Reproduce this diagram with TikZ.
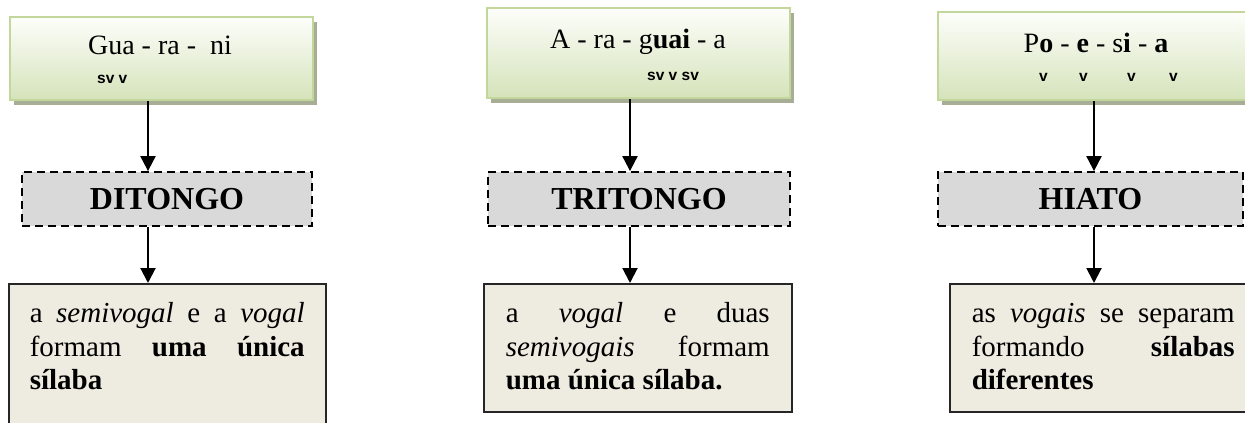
\documentclass[tikz,border=0pt]{standalone}
\usepackage{fontspec}
\setmainfont{Liberation Serif}
\newfontfamily\labelfont{Liberation Sans}
\usetikzlibrary{positioning,arrows.meta,shadows}
\definecolor{wordtop}{RGB}{253,254,251}
\definecolor{wordbottom}{RGB}{213,227,186}
\definecolor{wordline}{RGB}{195,214,155}
\definecolor{wordshadow}{RGB}{168,173,150}
\definecolor{typefill}{RGB}{217,217,217}
\definecolor{notefill}{RGB}{238,236,225}
\tikzset{
  wordbox/.style={draw=wordline,line width=2pt,top color=wordtop,bottom color=wordbottom,
    drop shadow={shadow xshift=4pt,shadow yshift=-5pt,fill=wordshadow,opacity=1}},
  word/.style={anchor=base,inner sep=0pt,font=\fontsize{28}{32}\selectfont},
  vowels/.style={anchor=base west,inner sep=0pt,font=\labelfont\bfseries\fontsize{15.5}{18}\selectfont},
  typebox/.style={draw,dash pattern=on 8pt off 5pt,line width=1.8pt,fill=typefill,
    minimum height=54pt,font=\fontsize{32}{36}\selectfont\bfseries},
  notebox/.style={draw=black!85,line width=1.5pt,fill=notefill,anchor=north west,align=justify,
    inner xsep=22pt,inner ysep=19pt,text height=20pt,text depth=70pt,
    font=\fontsize{29}{33.3}\selectfont,
    execute at begin node={\tolerance=10000\relax\hyphenpenalty=10000\relax}},
  arr/.style={line width=2pt,-{Triangle[length=15pt,width=15pt]}}
}
\begin{document}
\begin{tikzpicture}[x=1pt,y=-1pt]
  \path[use as bounding box,clip] (0,0) rectangle (1245,423);
  % ditongo
  \node[wordbox,minimum width=303pt,minimum height=83pt] (word1) at (161.5,58.5) {};
  \node[word] (guarani) at (160,54) {Gua - ra -\ \ ni};
  \node[vowels] (sv1) at (97,83) {sv v};
  \node[typebox,minimum width=290pt] (type1) at (167,199) {DITONGO};
  \node[notebox,text width=275pt,inner xsep=21pt,text depth=140pt] (note1) at (8,283)
    {a \textit{semivogal} e a \textit{vogal}\linebreak formam \textbf{uma única}\linebreak \textbf{sílaba}};
  \coordinate (x1) at (148,0);
  \draw[arr] (word1.south -| x1) -- (type1.north -| x1);
  \draw[arr] (type1.south -| x1) -- (note1.north -| x1);
  % tritongo
  \node[wordbox,minimum width=303pt,minimum height=90pt] (word2) at (638.5,53) {};
  \node[word] (araguaia) at (638,48) {A - ra - g\textbf{uai} - a};
  \node[vowels] (sv2) at (647,80) {sv v sv};
  \node[typebox,minimum width=302pt] (type2) at (639,199) {TRITONGO};
  \node[notebox,text width=264pt] (note2) at (483,283)
    {a \textit{vogal} e duas\linebreak \textit{semivogais} formam\linebreak \textbf{uma única sílaba.}};
  \coordinate (x2) at (630,0);
  \draw[arr] (word2.south -| x2) -- (type2.north -| x2);
  \draw[arr] (type2.south -| x2) -- (note2.north -| x2);
  % hiato
  \node[wordbox,minimum width=320pt,minimum height=88pt] (word3) at (1098,56) {};
  \node[word] (poesia) at (1096,52) {P\textbf{o} - \textbf{e} - s\textbf{i} - \textbf{a}};
  \foreach \i/\x in {1/1039,2/1079,3/1127,4/1169}
    \node[vowels] (v\i) at (\x,81) {v};
  \node[typebox,minimum width=305pt] (type3) at (1090.5,199) {HIATO};
  \node[notebox,text width=263pt] (note3) at (949,283)
    {as \textit{vogais} se separam\linebreak formando \textbf{sílabas}\linebreak \textbf{diferentes}};
  \coordinate (x3) at (1094,0);
  \draw[arr] (word3.south -| x3) -- (type3.north -| x3);
  \draw[arr] (type3.south -| x3) -- (note3.north -| x3);
\end{tikzpicture}
\end{document}
